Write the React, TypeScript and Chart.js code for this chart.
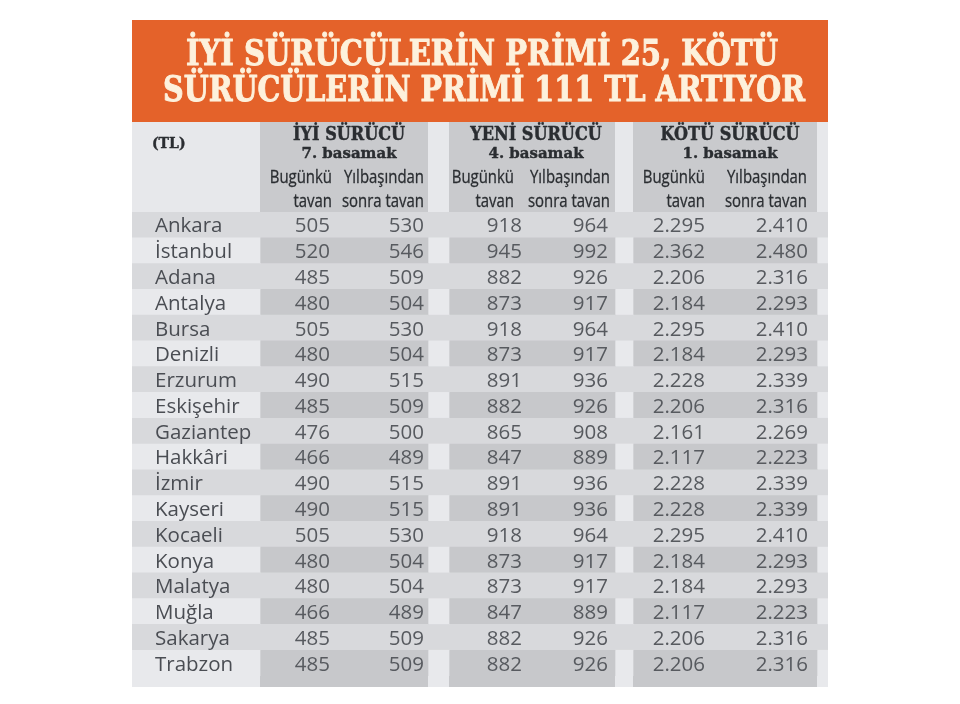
import React, { useEffect, useRef } from "react";
import { Chart, registerables } from "chart.js";

Chart.register(...registerables);

// ---------- data ----------
const titleLines = ["İYİ SÜRÜCÜLERİN PRİMİ 25, KÖTÜ", "SÜRÜCÜLERİN PRİMİ 111 TL ARTIYOR"];
const unitLabel = "(TL)";
const groupNames = ["İYİ SÜRÜCÜ", "YENİ SÜRÜCÜ", "KÖTÜ SÜRÜCÜ"];
const groupSteps = ["7. basamak", "4. basamak", "1. basamak"];
const subLabelNow = ["Bugünkü", "tavan"];
const subLabelNext = ["Yılbaşından", "sonra tavan"];
const cities = [
  "Ankara", "İstanbul", "Adana", "Antalya", "Bursa", "Denizli", "Erzurum", "Eskişehir", "Gaziantep",
  "Hakkâri", "İzmir", "Kayseri", "Kocaeli", "Konya", "Malatya", "Muğla", "Sakarya", "Trabzon",
];
const iyiBugun = [505, 520, 485, 480, 505, 480, 490, 485, 476, 466, 490, 490, 505, 480, 480, 466, 485, 485];
const iyiYilbasi = [530, 546, 509, 504, 530, 504, 515, 509, 500, 489, 515, 515, 530, 504, 504, 489, 509, 509];
const yeniBugun = [918, 945, 882, 873, 918, 873, 891, 882, 865, 847, 891, 891, 918, 873, 873, 847, 882, 882];
const yeniYilbasi = [964, 992, 926, 917, 964, 917, 936, 926, 908, 889, 936, 936, 964, 917, 917, 889, 926, 926];
const kotuBugun = [2295, 2362, 2206, 2184, 2295, 2184, 2228, 2206, 2161, 2117, 2228, 2228, 2295, 2184, 2184, 2117, 2206, 2206];
const kotuYilbasi = [2410, 2480, 2316, 2293, 2410, 2293, 2339, 2316, 2269, 2223, 2339, 2339, 2410, 2293, 2293, 2223, 2316, 2316];

// ---------- layout (table units on the x scale) ----------
const TABLE_W = 696;
const segments = [
  { from: 0, to: 128, dark: false },
  { from: 128, to: 296, dark: true },
  { from: 296, to: 317, dark: false },
  { from: 317, to: 483, dark: true },
  { from: 483, to: 501, dark: false },
  { from: 501, to: 685, dark: true },
  { from: 685, to: TABLE_W, dark: false },
];
const groupCenters = [217, 404, 598];
const valueColumns = [
  { values: iyiBugun, right: 198, head: subLabelNow, headRight: 200 },
  { values: iyiYilbasi, right: 292, head: subLabelNext, headRight: 292 },
  { values: yeniBugun, right: 390, head: subLabelNow, headRight: 382 },
  { values: yeniYilbasi, right: 476, head: subLabelNext, headRight: 478 },
  { values: kotuBugun, right: 573, head: subLabelNow, headRight: 573 },
  { values: kotuYilbasi, right: 676, head: subLabelNext, headRight: 675 },
];

const COLORS = {
  banner: "#e4622a",
  title: "#fdf1dc",
  headLight: "#e7e8eb",
  headDark: "#c9cacd",
  rowUniform: "#d8d9dc",
  rowLight: "#e8e9ec",
  rowDark: "#c7c8cb",
  headText: "#2a2d31",
  city: "#4a4d53",
  num: "#575a5f",
};

const fmt = (n: number) =>
  n >= 1000 ? `${Math.floor(n / 1000)}.${String(n % 1000).padStart(3, "0")}` : String(n);

const cellColor = (row: number, dark: boolean) =>
  row % 2 === 0 ? COLORS.rowUniform : dark ? COLORS.rowDark : COLORS.rowLight;

function scaledText(
  ctx: CanvasRenderingContext2D,
  text: string,
  x: number,
  y: number,
  sx: number,
  align: CanvasTextAlign,
  stroke = 0
) {
  ctx.save();
  ctx.translate(x, y);
  ctx.scale(sx, 1);
  ctx.textAlign = align;
  ctx.textBaseline = "alphabetic";
  if (stroke > 0) {
    ctx.lineWidth = stroke;
    ctx.lineJoin = "round";
    ctx.strokeStyle = ctx.fillStyle as string;
    ctx.strokeText(text, 0, 0);
  }
  ctx.fillText(text, 0, 0);
  ctx.restore();
}

const tablePlugin = {
  id: "tablePlugin",
  beforeDraw(chart: any) {
    const { ctx, chartArea, scales } = chart;
    const xs = scales.x;
    const L = xs.getPixelForValue(0);
    const R = xs.getPixelForValue(TABLE_W);
    const top = chartArea.top;
    ctx.save();
    ctx.fillStyle = "#ffffff";
    ctx.fillRect(0, 0, chart.width, chart.height);
    ctx.fillStyle = COLORS.banner;
    ctx.fillRect(L, top - 192, R - L, 102);
    ctx.fillStyle = COLORS.headLight;
    ctx.fillRect(L, top - 90, R - L, 90);
    segments.forEach((s) => {
      if (!s.dark) return;
      ctx.fillStyle = COLORS.headDark;
      const a = xs.getPixelForValue(s.from);
      const b = xs.getPixelForValue(s.to);
      ctx.fillRect(a, top - 90, b - a, 90);
    });
    ctx.restore();
  },
  beforeDatasetsDraw(chart: any) {
    const { ctx, chartArea, scales } = chart;
    const xs = scales.x;
    const last = cities.length - 1;
    ctx.save();
    segments.forEach((s) => {
      ctx.fillStyle = cellColor(last, s.dark);
      const a = xs.getPixelForValue(s.from);
      const b = xs.getPixelForValue(s.to);
      ctx.fillRect(a, chartArea.bottom - 1, b - a, 12);
    });
    ctx.restore();
  },
  afterDatasetsDraw(chart: any) {
    const { ctx, chartArea, scales } = chart;
    const xs = scales.x;
    const ys = scales.y;
    const top = chartArea.top;
    ctx.save();

    // title
    ctx.fillStyle = COLORS.title;
    ctx.font = "bold 36px 'DejaVu Serif'";
    const titleTargets = [
      { w: 592, c: 350, y: top - 147 },
      { w: 642, c: 352, y: top - 111 },
    ];
    titleLines.forEach((t, i) => {
      const m = ctx.measureText(t).width;
      scaledText(ctx, t, xs.getPixelForValue(titleTargets[i].c), titleTargets[i].y, titleTargets[i].w / m, "center", 1);
    });

    // header texts
    ctx.fillStyle = COLORS.headText;
    ctx.font = "bold 14px 'DejaVu Serif'";
    scaledText(ctx, unitLabel, xs.getPixelForValue(20), top - 64, 1, "left", 0.4);

    ctx.font = "bold 18px 'DejaVu Serif'";
    const gs = 112 / ctx.measureText(groupNames[0]).width;
    groupNames.forEach((g, i) => scaledText(ctx, g, xs.getPixelForValue(groupCenters[i]), top - 72, gs, "center", 0.5));

    ctx.font = "bold 15px 'DejaVu Serif'";
    const ss = 95 / ctx.measureText(groupSteps[0]).width;
    groupSteps.forEach((g, i) => scaledText(ctx, g, xs.getPixelForValue(groupCenters[i]), top - 54, ss, "center", 0.4));

    ctx.font = "18px 'Open Sans'";
    const hs = 80 / ctx.measureText(subLabelNext[0]).width;
    valueColumns.forEach((col) => {
      const x = xs.getPixelForValue(col.headRight);
      scaledText(ctx, col.head[0], x, top - 29, hs, "right", 0.3);
      scaledText(ctx, col.head[1], x, top - 5, hs, "right", 0.3);
    });

    // body
    ctx.font = "20.5px 'Open Sans'";
    cities.forEach((city, i) => {
      const y = ys.getPixelForValue(i) + 7.5;
      ctx.fillStyle = COLORS.city;
      scaledText(ctx, city, xs.getPixelForValue(23), y, 1, "left");
      ctx.fillStyle = COLORS.num;
      valueColumns.forEach((col) => {
        scaledText(ctx, fmt(col.values[i]), xs.getPixelForValue(col.right), y, 1, "right");
      });
    });
    ctx.restore();
  },
};

export default function App() {
  const ref = useRef<HTMLCanvasElement | null>(null);

  useEffect(() => {
    if (!ref.current) return;
    const datasets = segments.map((s) => ({
      label: `band-${s.from}`,
      data: cities.map(() => [s.from, s.to] as [number, number]),
      backgroundColor: (c: any) => cellColor(c.dataIndex, s.dark),
      borderWidth: 0,
      borderSkipped: false,
      grouped: false,
      barPercentage: 1,
      categoryPercentage: 1,
    }));
    const chart = new Chart(ref.current, {
      type: "bar",
      data: { labels: cities, datasets: datasets as any },
      options: {
        indexAxis: "y",
        animation: false,
        responsive: true,
        maintainAspectRatio: false,
        layout: { padding: { left: 132, right: 132, top: 212, bottom: 28 } },
        scales: {
          x: { type: "linear", min: 0, max: TABLE_W, display: false },
          y: { type: "category", display: false, offset: true },
        },
        plugins: {
          legend: { display: false },
          tooltip: { enabled: false },
          title: { display: false },
        },
        events: [],
      },
      plugins: [tablePlugin],
    });
    return () => chart.destroy();
  }, []);

  return (
    <div style={{ position: "fixed", left: 0, top: 0, width: 960, height: 704, background: "#fff" }}>
      <canvas ref={ref} />
    </div>
  );
}
